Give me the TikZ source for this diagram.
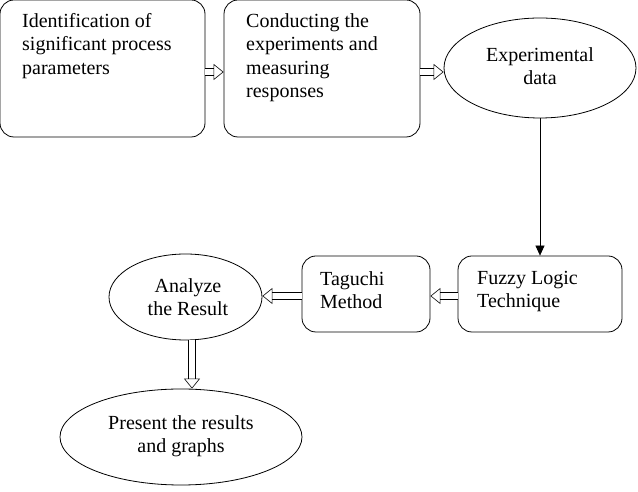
\documentclass[tikz,border=0pt]{standalone}
\usepackage{fontspec}
\setmainfont{Liberation Serif}
\usetikzlibrary{arrows.meta,shapes.geometric,positioning}
\tikzset {>=Stealth}
\tikzset{box/.style={draw,thick,rounded corners=14pt},
  oval/.style={draw,thick,ellipse,inner sep=0pt},
  txt/.style={align=left,anchor=north west,inner sep=0pt,font=\fontsize{20}{23.5}\selectfont},
  ctxt/.style={align=center,inner sep=0pt,font=\fontsize{20}{23.5}\selectfont},
  hollow/.style={double,semithick,double distance=6pt,-{Triangle[open,length=10pt,width=16pt,line width=0.6pt]}}}
\begin{document}
\begin{tikzpicture}[x=1pt,y=1pt]
\useasboundingbox (0,0) rectangle (638,492);
\node[box,minimum width=205,minimum height=137] (ident) at (102.5,423.5) {};
\node[txt] (identtxt) at (22,479) {Identification of\\significant process\\parameters};
\node[box,minimum width=196,minimum height=137] (exper) at (322,423.5) {};
\node[txt] (expertxt) at (246,479) {Conducting the\\experiments and\\measuring\\responses};
\node[oval,minimum width=192,minimum height=100] (data) at (540,424) {};
\node[ctxt] (datatxt) at (540,426) {Experimental\\data};
\node[box,minimum width=164,minimum height=76] (fuzzy) at (540,198) {};
\node[txt] (fuzzytxt) at (477,221) {Fuzzy Logic\\Technique};
\node[box,minimum width=128,minimum height=76] (taguchi) at (366,198) {};
\node[txt] (taguchitxt) at (320,221) {Taguchi\\Method};
\node[oval,minimum width=153,minimum height=86] (analyze) at (185.5,195) {};
\node[ctxt] (analyzetxt) at (188,195) {Analyze\\the Result};
\node[oval,minimum width=242,minimum height=96] (present) at (181,55) {};
\node[ctxt] (presenttxt) at (181,56) {Present the results\\and graphs};
\draw[hollow] (ident.east |- 0,420) -- (exper.west |- 0,420);
\draw[hollow] (exper.east |- 0,420) -- (data.west |- 0,420);
\draw[semithick,-{Triangle[length=10pt,width=9pt]}] (data.south) -- (fuzzy.north);
\draw[hollow] (fuzzy.west |- 0,196) -- (taguchi.east |- 0,196);
\draw[hollow] (taguchi.west |- 0,196) -- (analyze.east |- 0,196);
\draw[hollow] (analyze.south -| 192,0) -- (present.north -| 192,0);
\end{tikzpicture}
\end{document}
